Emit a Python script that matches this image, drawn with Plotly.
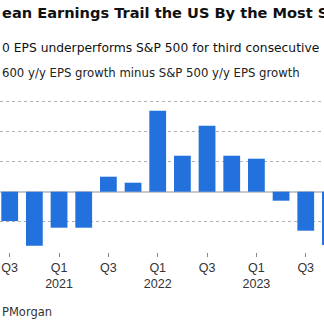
import plotly.graph_objects as go

# Quarterly spread: Stoxx 600 y/y EPS growth minus S&P 500 y/y EPS growth (pp)
quarters = ["Q3 2020", "Q4 2020", "Q1 2021", "Q2 2021", "Q3 2021", "Q4 2021",
            "Q1 2022", "Q2 2022", "Q3 2022", "Q4 2022", "Q1 2023", "Q2 2023",
            "Q3 2023", "Q4 2023"]
spread = [-9.8, -18, -12, -12, 5, 3, 27, 12, 22, 12, 11, -3, -13, -17.8]

tick_labels = ["Q3", "Q1<br>2021", "Q3", "Q1<br>2022", "Q3", "Q1<br>2023", "Q3"]
tick_idx = [0, 2, 4, 6, 8, 10, 12]

title_text = "ean Earnings Trail the US By the Most S"
subtitle_text = "0 EPS underperforms S&P 500 for third consecutive"
measure_text = "600 y/y EPS growth minus S&P 500 y/y EPS growth"
source_text = "PMorgan"

BLUE = "#2271dd"
W, H = 324, 328
TOP, BOTTOM = 88, 252  # plot area in pixels
PLOT_H = BOTTOM - TOP


def py(px):
    """pixel row -> paper y"""
    return (BOTTOM - px) / PLOT_H


fig = go.Figure(
    go.Bar(
        x=list(range(len(quarters))),
        y=spread,
        marker=dict(color=BLUE, line=dict(width=0)),
        width=0.68,
        hovertext=quarters,
    )
)

fig.update_layout(
    width=W,
    height=H,
    margin=dict(l=0, r=0, t=TOP, b=H - BOTTOM, pad=0),
    paper_bgcolor="white",
    plot_bgcolor="white",
    showlegend=False,
    font=dict(family="DejaVu Sans", color="#222"),
    xaxis=dict(
        range=[-0.393, 12.74],
        tickmode="array",
        tickvals=tick_idx,
        ticktext=tick_labels,
        ticks="outside",
        ticklen=4,
        tickcolor="#888",
        tickwidth=1,
        showgrid=False,
        showline=False,
        zeroline=False,
        tickfont=dict(family="Liberation Sans", size=12.5, color="#333"),
    ),
    yaxis=dict(
        range=[-20.1, 34.57],
        tickmode="array",
        tickvals=[-10, 10, 20, 30],
        showticklabels=False,
        showgrid=True,
        gridcolor="#b0b0b0",
        griddash="dot",
        gridwidth=1,
        zeroline=True,
        zerolinecolor="#c8c8c8",
        zerolinewidth=1.5,
    ),
    annotations=[
        dict(text=f"<b>{title_text}</b>", xref="paper", yref="paper", x=0, y=py(12),
             xanchor="left", yanchor="middle", showarrow=False,
             font=dict(family="DejaVu Sans", size=14.6, color="#111")),
        dict(text=subtitle_text, xref="paper", yref="paper", x=0, y=py(48),
             xanchor="left", yanchor="middle", showarrow=False,
             font=dict(family="DejaVu Sans", size=12.3, color="#111")),
        dict(text=measure_text, xref="paper", yref="paper", x=0, y=py(72.5),
             xanchor="left", yanchor="middle", showarrow=False,
             font=dict(family="DejaVu Sans", size=11.7, color="#222")),
        dict(text=source_text, xref="paper", yref="paper", x=0, y=py(312),
             xanchor="left", yanchor="middle", showarrow=False,
             font=dict(family="DejaVu Sans", size=11.5, color="#333")),
    ],
)

fig.write_html("out.html")
